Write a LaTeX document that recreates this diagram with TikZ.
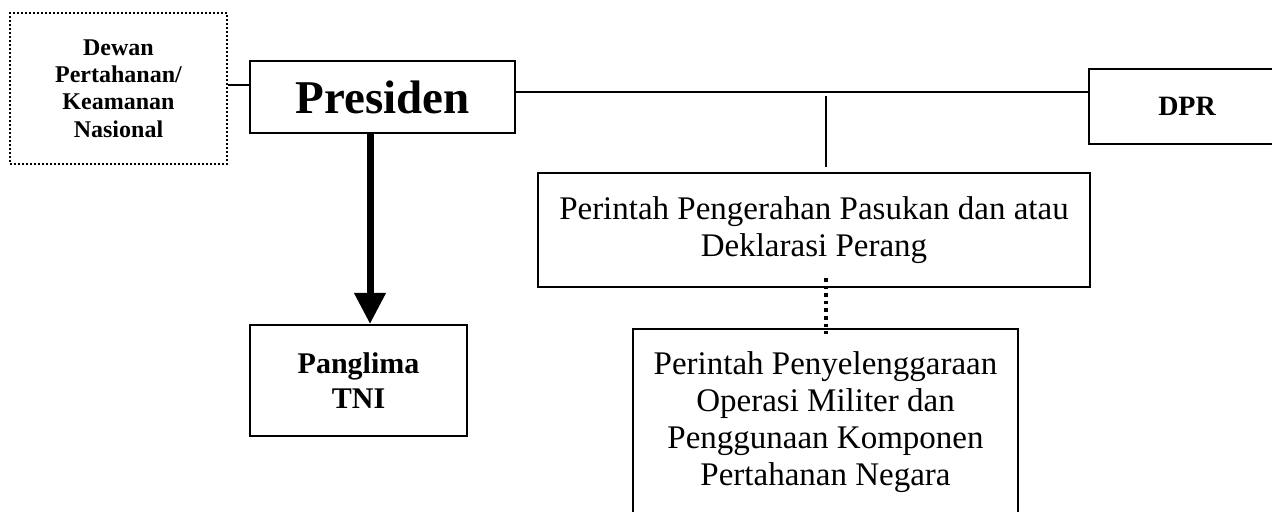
\documentclass[tikz,border=0pt]{standalone}
\usepackage{fontspec}
\setmainfont{Liberation Serif}
\usetikzlibrary{arrows.meta,calc}

\begin{document}
\begin{tikzpicture}[x=0.5pt, y=-0.5pt,
    box/.style={draw, line width=1pt, inner sep=0pt, align=center},
    link/.style={line width=1pt}]
  \useasboundingbox (0,0) rectangle (1272,512);

  \node[box, dash pattern=on 1pt off 1pt, minimum width=108.5pt, minimum height=75.5pt,
        font=\fontsize{12}{13.7}\selectfont\bfseries] (dewan) at (118.5,88.5)
        {Dewan\\Pertahanan/\\Keamanan\\Nasional};
  \node[box, minimum width=132.5pt, minimum height=36pt,
        font=\fontsize{23.5}{28}\selectfont\bfseries] (presiden) at (382.5,97) {Presiden};
  \node[box, minimum width=98pt, minimum height=37.5pt,
        font=\fontsize{14}{16}\selectfont\bfseries] (dpr) at (1187,106.5) {DPR};
  \node[box, minimum width=108.5pt, minimum height=55.5pt,
        font=\fontsize{15}{17.5}\selectfont\bfseries] (panglima) at (358.5,380.5) {Panglima\\TNI};
  \node[box, minimum width=276pt, minimum height=57pt,
        font=\fontsize{16.5}{18.5}\selectfont] (perang) at (814,230)
        {Perintah Pengerahan Pasukan dan atau\\Deklarasi Perang};
  \node[box, minimum width=192.5pt, minimum height=93.5pt,
        font=\fontsize{16.5}{18.5}\selectfont] (operasi) at (825.5,422.5)
        {Perintah Penyelenggaraan\\Operasi Militer dan\\Penggunaan Komponen\\Pertahanan Negara};

  \draw[link] (presiden.west) ++(0,-12) coordinate (pl) -- (pl -| dewan.east);
  \draw[link] (presiden.east) ++(0,-5) coordinate (pr) -- (pr -| dpr.west);
  \draw[link] ($(perang.north)+(12,-76)$) -- ($(perang.north)+(12,-5)$);
  \draw[line width=2pt, dash pattern=on 1.8pt off 2pt]
        ($(perang.south)+(12,-10)$) -- ($(operasi.north)+(0.5,6)$);
  \draw[line width=3.5pt, -{Triangle[length=15.5pt, width=15pt]}]
        (presiden.south) ++(-12.5,0) coordinate (pa) -- (pa |- panglima.north);
\end{tikzpicture}
\end{document}
